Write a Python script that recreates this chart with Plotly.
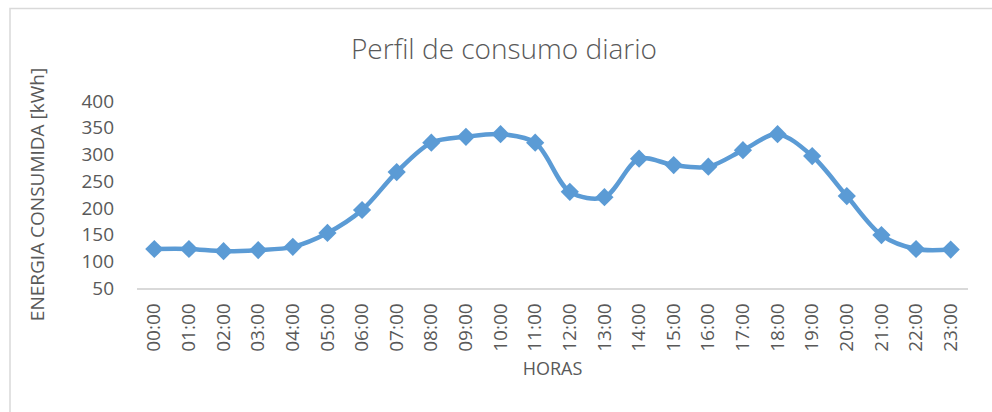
import plotly.graph_objects as go

horas = ["00:00", "01:00", "02:00", "03:00", "04:00", "05:00", "06:00", "07:00",
         "08:00", "09:00", "10:00", "11:00", "12:00", "13:00", "14:00", "15:00",
         "16:00", "17:00", "18:00", "19:00", "20:00", "21:00", "22:00", "23:00"]
energia = [123, 123, 119, 121, 127, 153, 196, 267,
           322, 333, 338, 322, 230, 220, 292, 280,
           277, 308, 338, 297, 222, 149, 123, 122]
y_ticks = [50, 100, 150, 200, 250, 300, 350, 400]

TEXT = "#595959"
BLUE = "#5B9BD5"
FONT = "Open Sans"

fig = go.Figure()
fig.add_trace(go.Scatter(
    x=horas, y=energia, mode="lines+markers",
    line=dict(color=BLUE, width=4.5, shape="spline", smoothing=0.9),
    marker=dict(symbol="diamond", size=14, color=BLUE),
    showlegend=False,
))

L, R, T, B = 137, 24, 101, 124
W, H = 992, 412
pw, ph = W - L - R, H - T - B

fig.update_layout(
    width=W, height=H,
    margin=dict(l=L, r=R, t=T, b=B),
    paper_bgcolor="white", plot_bgcolor="white",
    font=dict(family=FONT, color=TEXT),
    title=dict(text="Perfil de consumo diario", x=504 / W, xanchor="center",
               y=1 - 49 / H, yanchor="middle",
               font=dict(size=28, color=TEXT, family=FONT, weight=300)),
    xaxis=dict(
        type="category", tickangle=-90, showgrid=False, zeroline=False,
        showline=True, linecolor="#D9D9D9", linewidth=1.5,
        ticks="", tickfont=dict(size=19, color=TEXT),
        ticklabelstandoff=6,
        title=dict(text="HORAS", font=dict(size=18, color=TEXT), standoff=12),
        range=[-0.5, len(horas) - 0.5],
    ),
    yaxis=dict(
        range=[50, 400], tickvals=y_ticks, showgrid=False, zeroline=False,
        showline=False, ticks="", tickfont=dict(size=19, color=TEXT),
        ticklabelstandoff=22,
        title=dict(text="ENERGIA CONSUMIDA [kWh]", font=dict(size=19, color=TEXT), standoff=31),
    ),
    shapes=[dict(
        type="rect", xref="paper", yref="paper",
        x0=(10 - L) / pw, x1=(W + 10 - L) / pw,
        y0=(T + ph - (H + 10)) / ph, y1=(T + ph - 8.5) / ph,
        line=dict(color="#D9D9D9", width=1.5), fillcolor="rgba(0,0,0,0)",
        layer="below",
    )],
)

fig.write_html("out.html", config={"displayModeBar": False},
               post_script="document.body.style.margin='0';")
